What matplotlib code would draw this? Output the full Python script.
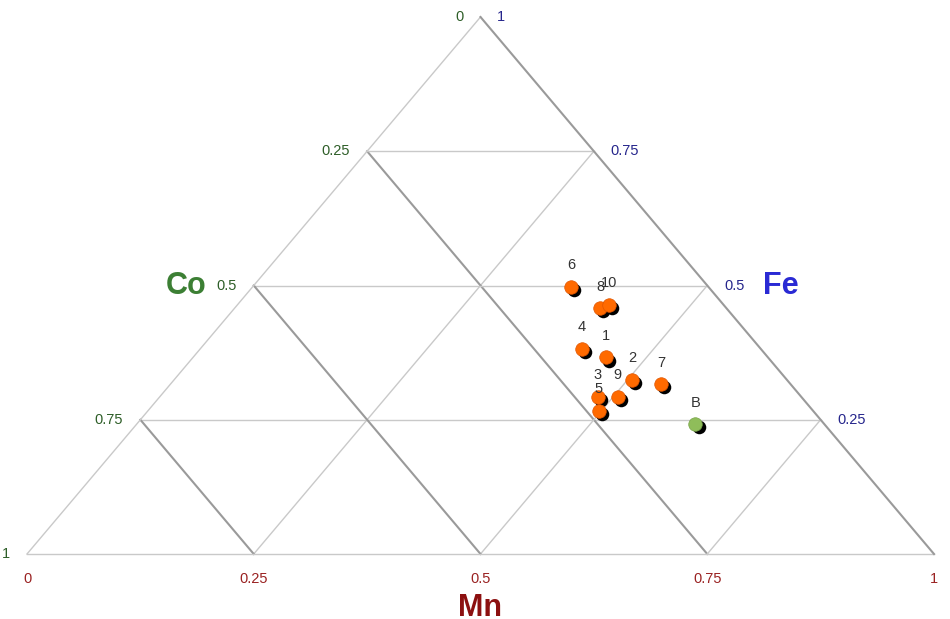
import matplotlib.pyplot as plt
import matplotlib.transforms as mtransforms
import numpy as np

# sample compositions (fractions): Mn, Co, Fe
labels = ["1", "2", "3", "4", "5", "6", "7", "8", "9", "10"]
mn = [0.455, 0.505, 0.483, 0.421, 0.497, 0.351, 0.541, 0.403, 0.505, 0.410]
co = [0.179, 0.171, 0.224, 0.197, 0.236, 0.151, 0.143, 0.139, 0.202, 0.126]
fe = [0.366, 0.324, 0.293, 0.382, 0.267, 0.498, 0.316, 0.458, 0.293, 0.464]

ref_label = "B"
ref_mn, ref_co, ref_fe = 0.616, 0.142, 0.242

ticks = [0, 0.25, 0.5, 0.75, 1]
grid = [0.25, 0.5, 0.75]


def tern(mn_v, fe_v):
    mn_v = np.asarray(mn_v)
    fe_v = np.asarray(fe_v)
    return mn_v + fe_v / 2, fe_v


plt.rcParams["font.family"] = ["Liberation Sans", "DejaVu Sans"]

W, H = 950, 619
fig = plt.figure(figsize=(W / 100, H / 100), dpi=100)
ax = fig.add_axes([0, 0, 1, 1])
x0, base = 27, 907
y0, height = 65, 537
ax.set_xlim(-x0 / base, (W - x0) / base)
ax.set_ylim(-y0 / height, (H - y0) / height)
ax.axis("off")

light = "#c9c9c9"
dark = "#9a9a9a"

# grid lines
for g in grid:
    # constant Fe (horizontal)
    xs, ys = tern([0, 1 - g], [g, g])
    ax.plot(xs, ys, color=light, lw=1.0, zorder=1)
    # constant Mn (parallel to left edge)
    xs, ys = tern([g, g], [0, 1 - g])
    ax.plot(xs, ys, color=light, lw=1.0, zorder=1)
    # constant Co (parallel to right edge)
    xs, ys = tern([1 - g, 0], [0, 1 - g])
    ax.plot(xs, ys, color=dark, lw=1.5, zorder=1)

# triangle edges
xs, ys = tern([0, 1], [0, 0])
ax.plot(xs, ys, color=light, lw=1.0, zorder=1)
xs, ys = tern([0, 0], [0, 1])
ax.plot(xs, ys, color=light, lw=1.0, zorder=1)
xs, ys = tern([1, 0], [0, 1])
ax.plot(xs, ys, color=dark, lw=1.5, zorder=1)

# tick labels
co_col, fe_col, mn_col = "#2e5e28", "#26268c", "#9a2222"
for t in ticks:
    # Co along the left edge
    x, y = tern(0, 1 - t)
    ax.annotate(f"{t:g}", (x, y), xytext=(-12.5, 0), textcoords="offset points",
                ha="right", va="center", fontsize=10.5, color=co_col)
    # Fe along the right edge
    x, y = tern(1 - t, t)
    ax.annotate(f"{t:g}", (x, y), xytext=(12, 0), textcoords="offset points",
                ha="left", va="center", fontsize=10.5, color=fe_col)
    # Mn along the bottom
    x, y = tern(t, 0)
    ax.annotate(f"{t:g}", (x, y), xytext=(0, -18), textcoords="offset points",
                ha="center", va="center", fontsize=10.5, color=mn_col)

# axis titles
ax.annotate("Co", tern(0, 0.5), xytext=(-49, 0), textcoords="offset points",
            ha="center", va="center", fontsize=22, fontweight="bold", color="#3c7f34")
ax.annotate("Fe", tern(0.5, 0.5), xytext=(53, 0), textcoords="offset points",
            ha="center", va="center", fontsize=22, fontweight="bold", color="#2a2ad4")
ax.annotate("Mn", tern(0.5, 0), xytext=(0, -39), textcoords="offset points",
            ha="center", va="center", fontsize=22, fontweight="bold", color="#8c1010")

# points with drop shadow
shadow = mtransforms.offset_copy(ax.transData, fig=fig, x=2.2, y=-2.2, units="points")
px, py = tern(mn, fe)
bx, by = tern(ref_mn, ref_fe)
ax.scatter(px, py, s=95, color="black", transform=shadow, zorder=3, linewidths=0)
ax.scatter([bx], [by], s=95, color="black", transform=shadow, zorder=3, linewidths=0)
ax.scatter(px, py, s=95, color="#ff6a00", zorder=4, edgecolors="#e05500", linewidths=0.5)
ax.scatter([bx], [by], s=95, color="#8fbd5a", zorder=4, edgecolors="#78a448", linewidths=0.5)

for lab, x, y in zip(labels, px, py):
    ax.annotate(lab, (x, y), xytext=(0, 15.5), textcoords="offset points",
                ha="center", va="center", fontsize=10.5, color="#333333", zorder=5)
ax.annotate(ref_label, (bx, by), xytext=(0, 15.5), textcoords="offset points",
            ha="center", va="center", fontsize=10.5, color="#333333", zorder=5)

fig.savefig("out.png", dpi=100, facecolor="white")
